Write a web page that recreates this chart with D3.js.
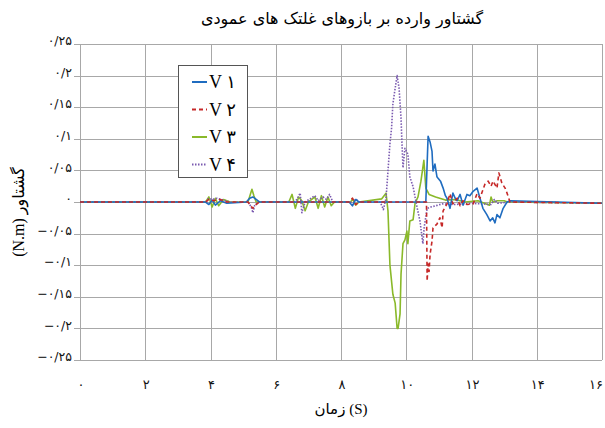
<!DOCTYPE html>
<html>
<head>
<meta charset="utf-8">
<script src="https://cdn.jsdelivr.net/npm/d3@7/dist/d3.min.js"></script>
<style>
  body { margin: 0; background: #fff; }
  .grid line { stroke: #a8a8a8; stroke-width: 1; shape-rendering: crispEdges; }
  .tick-label { font-family: "DejaVu Sans", sans-serif; font-size: 12.5px; fill: #111; }
  .line { fill: none; stroke-width: 1.6; stroke-linejoin: round; }
</style>
</head>
<body>
<div id="chart"></div>
<script>
// series: [time (s), moment (N.m)]
var v1 = [[0,0],[3.85,0],[3.95,-0.004],[4.05,0.003],[4.15,-0.005],[4.3,0.002],[4.5,-0.002],[5.1,0],
  [5.2,0.006],[5.3,0.008],[5.4,0.004],[5.5,0],[8.25,0],[8.35,-0.006],[8.45,0.004],[8.55,0],
  [10.6,0],[10.64,0.06],[10.67,0.104],[10.73,0.095],[10.79,0.08],[10.82,0.049],[10.88,0.06],
  [10.94,0.04],[10.97,0.038],[11.05,0.033],[11.13,0.022],[11.2,0.01],[11.25,0.006],[11.34,-0.01],
  [11.43,0.014],[11.5,0.006],[11.56,0.002],[11.65,0.012],[11.74,-0.005],[11.86,0.012],[11.95,0.01],
  [12.05,0.017],[12.17,0.022],[12.26,0.006],[12.35,-0.01],[12.47,-0.02],[12.57,-0.03],[12.65,-0.025],
  [12.72,-0.033],[12.78,-0.02],[12.87,-0.025],[12.97,-0.01],[13.09,0],[13.2,0.002],[16,-0.002]];

var v2 = [[0,0],[3.85,0],[3.95,0.004],[4.1,0.002],[4.3,0.004],[4.5,0],[5.15,0],[5.25,-0.007],
  [5.3,-0.01],[5.4,-0.004],[5.5,0],[8.25,0],[8.35,0.006],[8.45,-0.004],[8.55,0],[10.62,0],
  [10.64,-0.125],[10.67,-0.098],[10.7,-0.11],[10.73,-0.083],[10.79,-0.062],[10.82,-0.041],
  [10.94,-0.035],[11.03,-0.025],[11.1,-0.041],[11.13,-0.014],[11.25,-0.003],[11.34,0.013],
  [11.43,-0.003],[11.56,0.006],[11.65,-0.006],[11.74,0.002],[11.86,-0.004],[12.05,-0.003],
  [12.17,0.013],[12.26,0.006],[12.41,0.028],[12.51,0.033],[12.6,0.025],[12.66,0.033],[12.78,0.022],
  [12.84,0.046],[12.93,0.03],[13.03,0.022],[13.09,0.014],[13.18,0],[16,-0.002]];

var v3 = [[0,0],[3.85,0],[3.95,0.008],[4.05,-0.008],[4.15,0.006],[4.25,-0.006],[4.4,0.004],[4.6,0],
  [5.15,0],[5.22,0.012],[5.27,0.02],[5.33,0.01],[5.4,0],[6.4,0],[6.5,0.012],[6.6,-0.01],[6.7,0.008],
  [6.8,0.002],[6.9,-0.014],[7.0,0],[7.2,0.008],[7.3,-0.01],[7.4,0.01],[7.5,-0.008],[7.6,0.008],
  [7.7,-0.006],[7.8,0],[8.3,0],[8.35,0.005],[8.45,-0.005],[8.55,0],[9.25,0.005],[9.38,0.014],
  [9.44,-0.014],[9.5,-0.1],[9.59,-0.146],[9.66,-0.16],[9.72,-0.2],[9.75,-0.2],[9.81,-0.177],
  [9.84,-0.114],[9.9,-0.066],[9.96,-0.06],[10.02,-0.046],[10.05,-0.066],[10.11,-0.03],[10.21,-0.028],
  [10.27,-0.002],[10.36,0.008],[10.45,0.033],[10.54,0.066],[10.6,0.022],[10.7,0.012],[10.9,0.008],
  [11.2,0.003],[11.5,0.004],[11.8,0],[12.2,0.002],[12.55,-0.005],[12.6,0.008],[12.65,0],
  [12.8,0.002],[13,0.002],[13.1,0],[16,-0.002]];

var v4 = [[0,0],[3.85,0],[3.95,0.006],[4.05,0.004],[4.2,0.006],[4.4,0.003],[4.6,0],[5.15,0],
  [5.25,-0.008],[5.3,-0.017],[5.35,-0.006],[5.45,0],[6.6,0],[6.75,0.014],[6.8,-0.017],[6.9,0],
  [7.2,0.01],[7.3,0.002],[7.45,0.008],[7.55,0.004],[7.65,0.012],[7.75,0],[8.3,0],[8.35,-0.005],
  [8.45,0.005],[8.55,0],[9.2,0],[9.3,-0.012],[9.38,0.006],[9.44,0.049],[9.5,0.092],[9.55,0.117],
  [9.59,0.155],[9.66,0.18],[9.72,0.2],[9.78,0.18],[9.84,0.133],[9.87,0.092],[9.9,0.054],
  [9.96,0.085],[10.05,0.076],[10.11,0.04],[10.21,0.024],[10.33,-0.008],[10.42,-0.03],[10.51,-0.066],
  [10.55,-0.04],[10.64,-0.01],[10.75,-0.008],[10.9,-0.006],[11.1,-0.003],[11.5,-0.004],[12,-0.002],
  [12.6,-0.004],[12.7,0.004],[12.8,-0.002],[13.2,0],[16,-0.002]];

var seriesNames = ["V ۱", "V ۲", "V ۳", "V ۴"];
var seriesColors = ["#1f6cc0", "#c62828", "#8ab92a", "#7a5ab0"];
var seriesDash = ["none", "4,3", "none", "1.5,1.5"];

var xTicks = [0, 2, 4, 6, 8, 10, 12, 14, 16];
var xTickLabels = ["۰", "۲", "۴", "۶", "۸", "۱۰", "۱۲", "۱۴", "۱۶"];
var yTicks = [0.25, 0.2, 0.15, 0.1, 0.05, 0, -0.05, -0.1, -0.15, -0.2, -0.25];
var yTickLabels = ["۰/۲۵", "۰/۲", "۰/۱۵", "۰/۱", "۰/۰۵", "۰",
  "−۰/۰۵", "−۰/۱", "−۰/۱۵", "−۰/۲", "−۰/۲۵"];

function MomentChart(sParentId) {
  var W = 605, H = 428;
  var MARGIN = {top: 44, right: 3, bottom: 68, left: 80},
      WIDTH = W - MARGIN.left - MARGIN.right,
      HEIGHT = H - MARGIN.top - MARGIN.bottom;

  var oSvg = d3.select("#" + sParentId).append("svg")
    .attr("width", W).attr("height", H);

  var g = oSvg.append("g")
    .attr("transform", "translate(" + MARGIN.left + "," + MARGIN.top + ")");

  var x = d3.scaleLinear().domain([0, 16]).range([0, WIDTH]);
  var y = d3.scaleLinear().domain([-0.25, 0.25]).range([HEIGHT, 0]);

  // grid
  var grid = g.append("g").attr("class", "grid");
  grid.selectAll(".hg").data(yTicks).enter().append("line")
    .attr("x1", -6).attr("x2", WIDTH)
    .attr("y1", function(d) { return Math.round(y(d)) + 0.5; })
    .attr("y2", function(d) { return Math.round(y(d)) + 0.5; });
  grid.selectAll(".vg").data(xTicks).enter().append("line")
    .attr("y1", 0).attr("y2", HEIGHT)
    .attr("x1", function(d) { return Math.round(x(d)) + 0.5; })
    .attr("x2", function(d) { return Math.round(x(d)) + 0.5; });

  // tick labels
  g.selectAll(".ylab").data(yTicks).enter().append("text")
    .attr("class", "tick-label")
    .attr("x", -8)
    .attr("y", function(d) { return y(d); })
    .attr("dy", "0.1em")
    .attr("text-anchor", "end")
    .text(function(d, i) { return yTickLabels[i]; });

  // last label sits flush with the right edge
  g.selectAll(".xlab").data(xTicks).enter().append("text")
    .attr("class", "tick-label")
    .attr("x", function(d, i) { return i === xTicks.length - 1 ? x(d) + 1 : x(d) + 1; })
    .attr("y", HEIGHT + 29)
    .attr("text-anchor", function(d, i) { return i === xTicks.length - 1 ? "end" : "middle"; })
    .style("font-size", "13px")
    .text(function(d, i) { return xTickLabels[i]; });

  // lines
  var line = d3.line()
    .x(function(d) { return x(d[0]); })
    .y(function(d) { return y(d[1]); });

  var aData = [v1, v2, v3, v4];
  var order = [2, 3, 0, 1];
  order.forEach(function(i) {
    g.append("path")
      .attr("class", "line")
      .attr("d", line(aData[i]))
      .style("stroke", seriesColors[i])
      .style("stroke-dasharray", seriesDash[i]);
  });

  // titles
  oSvg.append("text")
    .attr("x", 342).attr("y", 24)
    .attr("text-anchor", "middle")
    .style("font-family", "DejaVu Sans, sans-serif")
    .style("font-size", "16px")
    .text("گشتاور وارده بر بازوهای غلتک های عمودی");

  oSvg.append("text")
    .attr("x", 341).attr("y", 414)
    .attr("text-anchor", "middle")
    .style("font-family", "Liberation Serif, DejaVu Sans, serif")
    .style("font-size", "15px")
    .text("زمان (S)");

  oSvg.append("text")
    .attr("transform", "translate(24,212) rotate(-90)")
    .attr("text-anchor", "middle")
    .style("font-family", "Liberation Serif, DejaVu Sans, serif")
    .style("font-size", "16px")
    .text("(N.m) گشتاور");

  // legend
  var legend = oSvg.append("g").attr("transform", "translate(178,65)");
  legend.append("rect")
    .attr("x", 0.5).attr("y", 0.5).attr("width", 69).attr("height", 112)
    .style("fill", "#fff").style("stroke", "#555");
  var rows = legend.selectAll(".item").data(seriesNames).enter().append("g")
    .attr("transform", function(d, i) { return "translate(0," + (17 + i * 27.5) + ")"; });
  rows.append("line")
    .attr("x1", 14).attr("x2", 29).attr("y1", 0).attr("y2", 0)
    .style("stroke-width", 2)
    .style("stroke", function(d, i) { return seriesColors[i]; })
    .style("stroke-dasharray", function(d, i) { return seriesDash[i]; });
  rows.append("text")
    .attr("x", 31).attr("y", 6)
    .style("font-family", "Liberation Serif, DejaVu Sans, serif")
    .style("font-size", "18px")
    .text(function(d) { return d; });
}

MomentChart("chart");
</script>
</body>
</html>
